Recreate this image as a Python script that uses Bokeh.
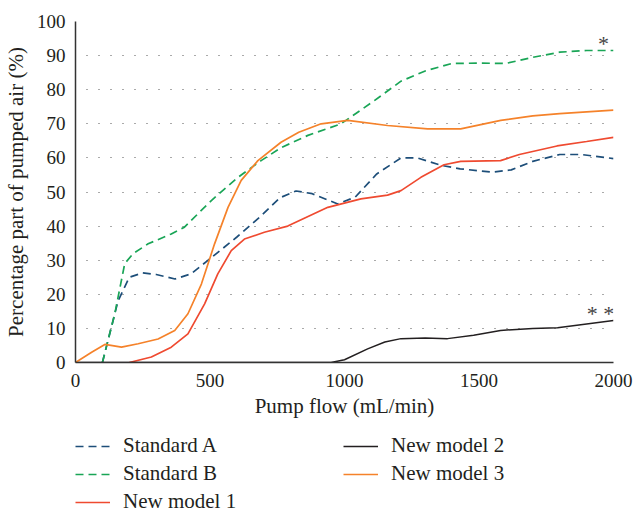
from bokeh.plotting import figure
from bokeh.layouts import column
from bokeh.models import Legend, LegendItem, ColumnDataSource, Range1d, FixedTicker
from bokeh.core.properties import value
from bokeh.embed import file_html
from bokeh.resources import INLINE

# ---- data ----
std_a_x = [100, 158, 200, 250, 300, 370, 430, 490, 600, 690, 760, 820, 880, 975, 1040, 1120, 1210, 1270, 1360, 1430, 1550, 1620, 1700, 1800, 1880, 2000]
std_a_y = [0, 18, 25, 26.3, 25.8, 24.5, 26, 29.8, 36.8, 43, 48.3, 50.3, 49.5, 46.5, 48.5, 55.3, 60, 60, 57.8, 56.8, 55.8, 56.5, 59, 61, 61, 59.8]

std_b_x = [100, 146, 183, 215, 270, 356, 405, 505, 604, 690, 764, 864, 987, 1111, 1210, 1300, 1400, 1500, 1600, 1700, 1800, 1900, 2000]
std_b_y = [0, 14.3, 29, 32, 34.8, 37.7, 39.7, 47.5, 54.3, 59.2, 63, 66.6, 70, 76.8, 82.5, 85.5, 87.7, 87.8, 87.7, 89.5, 91, 91.5, 91.5]

nm1_x = [200, 282, 356, 418, 480, 529, 579, 628, 702, 789, 938, 1061, 1160, 1210, 1284, 1370, 1432, 1580, 1650, 1790, 1900, 2000]
nm1_y = [0, 1.6, 4.5, 8.4, 17.2, 26, 32.8, 36.2, 38.2, 40, 45.5, 48, 49.1, 50.4, 54.3, 58, 59, 59.2, 61, 63.5, 64.8, 66]

nm2_x = [0, 950, 1000, 1086, 1150, 1210, 1300, 1383, 1480, 1580, 1700, 1792, 1900, 2000]
nm2_y = [0, 0, 0.8, 4, 6, 7, 7.2, 7, 8, 9.4, 10, 10.2, 11.3, 12.3]

nm3_x = [0, 60, 109, 171, 233, 307, 369, 418, 468, 517, 567, 616, 678, 764, 830, 913, 1012, 1160, 1309, 1432, 1581, 1700, 1800, 2000]
nm3_y = [0, 3, 5.3, 4.5, 5.5, 6.9, 9.4, 14.3, 23, 34.8, 45.5, 53.4, 59.2, 64.6, 67.5, 70, 71, 69.5, 68.5, 68.5, 71, 72.3, 73, 74]

x_ticks = [0, 500, 1000, 1500, 2000]
y_ticks = [0, 10, 20, 30, 40, 50, 60, 70, 80, 90, 100]
series_names = ["Standard A", "Standard B", "New model 1", "New model 2", "New model 3"]
marks_b = "*"
marks_2 = "* *"

FONT = "Liberation Serif"
TXT = "#231f20"

navy = "#1d4e79"
green = "#19a556"
red = "#ef4a30"
black = "#231f20"
orange = "#f5822a"
styles = [dict(line_color=navy, line_width=1.7, line_dash="8 5"),
          dict(line_color=green, line_width=1.7, line_dash="8 5"),
          dict(line_color=red, line_width=1.7),
          dict(line_color=black, line_width=1.5),
          dict(line_color=orange, line_width=1.7)]

p = figure(width=633, height=420, output_backend="svg", toolbar_location=None,
           x_range=Range1d(0, 2000), y_range=Range1d(0, 100),
           min_border_left=74, min_border_right=20, min_border_top=21, min_border_bottom=58)
p.outline_line_color = None

for ax in (p.xaxis[0], p.yaxis[0]):
    ax.major_tick_line_color = None
    ax.minor_tick_line_color = None
    ax.major_tick_out = 0
    ax.major_tick_in = 0
    ax.minor_tick_out = 0
    ax.minor_tick_in = 0
    ax.axis_line_color = "#333333"
    ax.axis_line_width = 1.5
    ax.major_label_text_font = FONT
    ax.major_label_text_font_size = "19px"
    ax.major_label_text_color = TXT
    ax.axis_label_text_font = FONT
    ax.axis_label_text_font_style = "normal"
    ax.axis_label_text_font_size = "21px"
    ax.axis_label_text_color = TXT

p.xaxis.ticker = FixedTicker(ticks=x_ticks)
p.yaxis.ticker = FixedTicker(ticks=y_ticks)
p.xaxis.axis_label = "Pump flow (mL/min)"
p.yaxis.axis_label = "Percentage part of pumped air (%)"
p.xaxis.major_label_standoff = 11
p.xaxis.axis_label_standoff = 4
p.yaxis.major_label_standoff = 10
p.yaxis.axis_label_standoff = 6

p.xgrid.grid_line_color = None
p.ygrid.grid_line_color = "#555555"
p.ygrid.grid_line_width = 1.2
p.ygrid.grid_line_dash = "1 11"
p.ygrid.grid_line_dash_offset = 1

xs = [std_a_x, std_b_x, nm1_x, nm2_x, nm3_x]
ys = [std_a_y, std_b_y, nm1_y, nm2_y, nm3_y]
for x, y, st in zip(xs, ys, styles):
    p.line(x, y, **st)

# significance marks anchored to the series end points
src = ColumnDataSource(dict(x=[std_b_x[-1], nm2_x[-1]], y=[std_b_y[-1], nm2_y[-1]],
                            t=[marks_b, marks_2], yo=[6, 5], xo=[-10, -13]))
p.text(x="x", y="y", text="t", source=src, x_offset="xo", y_offset="yo",
       text_font=value(FONT), text_font_size="22px", text_color="#444444",
       text_align="center", text_baseline="bottom")

# legend strip below the chart (same series, drawn outside its visible range)
lg = figure(width=633, height=94, output_backend="svg", toolbar_location=None,
            min_border=0, x_axis_location=None, y_axis_location=None,
            x_range=Range1d(0, 2000), y_range=Range1d(-200, -100))
lg.grid.visible = False
lg.outline_line_color = None
lr = [lg.line(x, y, **st) for x, y, st in zip(xs, ys, styles)]
legend = Legend(items=[LegendItem(label=n, renderers=[r]) for n, r in zip(series_names, lr)],
                orientation="vertical", nrows=3, location=(0, 0),
                glyph_width=35, glyph_height=20, label_height=20, label_width=217,
                label_standoff=13, spacing=3, padding=0, margin=0,
                border_line_color=None, background_fill_alpha=0,
                label_text_font=FONT, label_text_font_size="21px",
                label_text_color=TXT)
lg.add_layout(legend, "center")

open("out.html", "w").write(file_html(column(p, lg, spacing=0), INLINE))
